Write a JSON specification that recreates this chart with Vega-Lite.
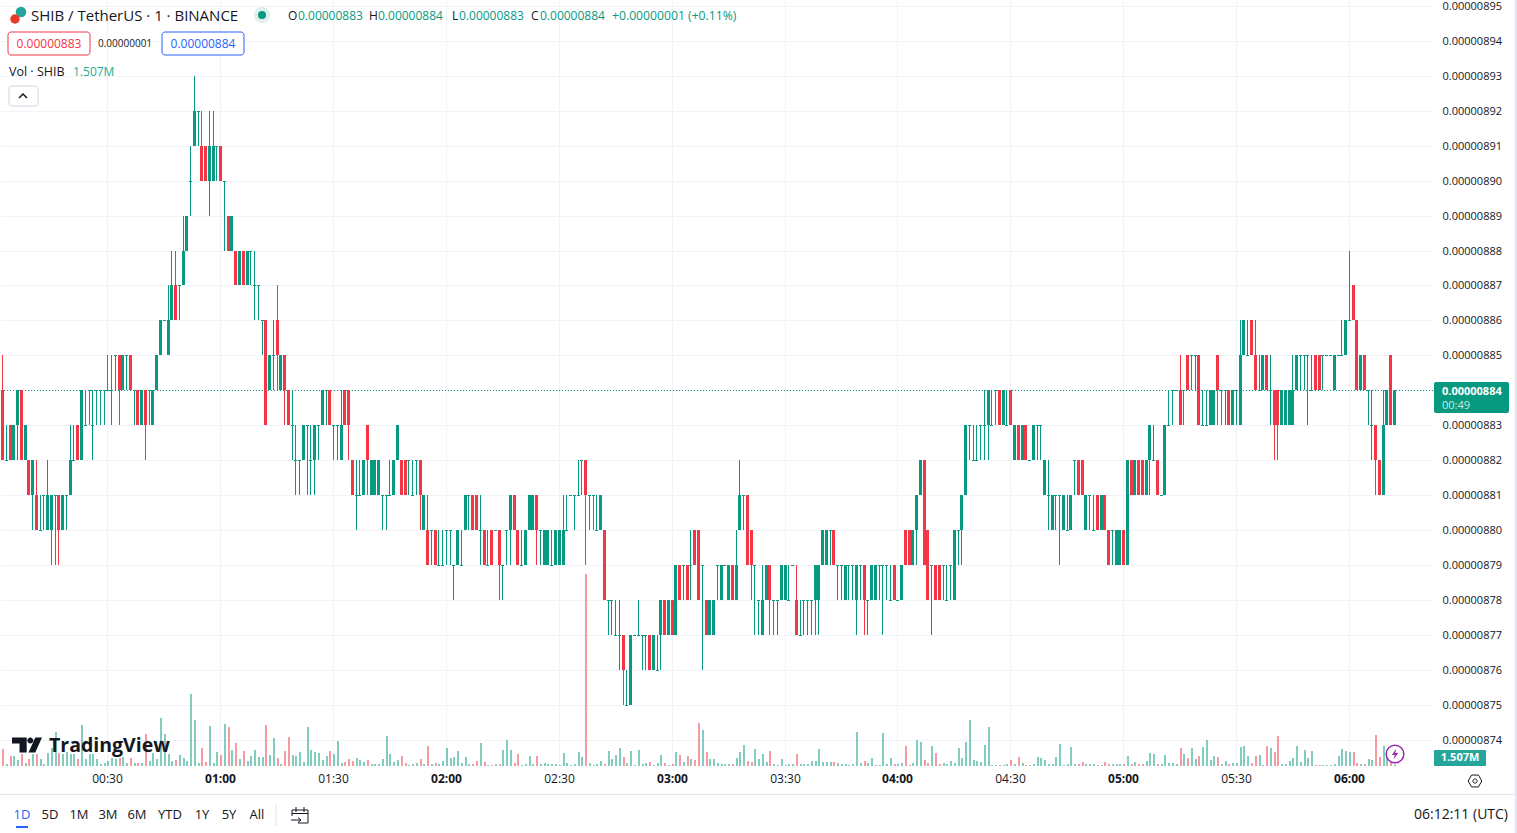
{"$schema":"https://vega.github.io/schema/vega-lite/v6.json","width":1433,"height":766,"autosize":"none","padding":{"left":0,"top":0,"right":84,"bottom":67},"background":"#ffffff",
"config":{"view":{"stroke":null},"axis":{"gridColor":"#f0f3fa","gridWidth":1,"domain":false,"ticks":false,"title":null,"labelColor":"#131722","labelFont":"Open Sans","labelOverlap":false,"labelSeparation":0},"text":{"font":"Open Sans","color":"#131722","align":"left","baseline":"middle","fontSize":14},"point":{"opacity":1}},
"data":{"values":[
{"t":2,"o":884,"h":885,"l":882,"c":882,"v":17},{"t":3,"o":882,"h":883,"l":882,"c":882,"v":2},{"t":4,"o":883,"h":883,"l":882,"c":882,"v":10},{"t":5,"o":882,"h":883,"l":882,"c":883,"v":10},{"t":6,"o":883,"h":884,"l":882,"c":884,"v":6},{"t":7,"o":884,"h":884,"l":882,"c":882,"v":12},{"t":8,"o":882,"h":883,"l":882,"c":883,"v":3},{"t":9,"o":882,"h":882,"l":881,"c":881,"v":7},{"t":10,"o":881,"h":882,"l":880,"c":882,"v":12},{"t":11,"o":881,"h":882,"l":880,"c":880,"v":12},
{"t":12,"o":880,"h":881,"l":880,"c":880,"v":7},{"t":13,"o":881,"h":881,"l":880,"c":881,"v":2},{"t":14,"o":880,"h":882,"l":880,"c":881,"v":13},{"t":15,"o":880,"h":881,"l":879,"c":881,"v":18},{"t":16,"o":881,"h":881,"l":879,"c":881,"v":34},{"t":17,"o":881,"h":881,"l":879,"c":880,"v":13},{"t":18,"o":880,"h":881,"l":880,"c":881,"v":12},{"t":19,"o":881,"h":881,"l":880,"c":881,"v":14},{"t":20,"o":881,"h":883,"l":881,"c":882,"v":12},{"t":21,"o":882,"h":883,"l":882,"c":882,"v":12},
{"t":22,"o":883,"h":883,"l":882,"c":882,"v":7},{"t":23,"o":882,"h":884,"l":882,"c":884,"v":41},{"t":24,"o":883,"h":884,"l":883,"c":883,"v":7},{"t":25,"o":884,"h":884,"l":883,"c":884,"v":12},{"t":26,"o":883,"h":884,"l":882,"c":883,"v":12},{"t":27,"o":884,"h":884,"l":883,"c":884,"v":7},{"t":28,"o":884,"h":884,"l":883,"c":884,"v":2},{"t":29,"o":884,"h":884,"l":883,"c":884,"v":3},{"t":30,"o":884,"h":885,"l":884,"c":884,"v":5},{"t":31,"o":884,"h":885,"l":883,"c":884,"v":8},
{"t":32,"o":885,"h":885,"l":884,"c":885,"v":7},{"t":33,"o":885,"h":885,"l":883,"c":884,"v":8},{"t":34,"o":884,"h":885,"l":884,"c":885,"v":9},{"t":35,"o":885,"h":885,"l":884,"c":885,"v":3},{"t":36,"o":885,"h":885,"l":884,"c":884,"v":8},{"t":37,"o":884,"h":884,"l":883,"c":884,"v":3},{"t":38,"o":884,"h":884,"l":883,"c":883,"v":3},{"t":39,"o":883,"h":884,"l":883,"c":884,"v":3},{"t":40,"o":884,"h":884,"l":882,"c":883,"v":32},{"t":41,"o":884,"h":884,"l":883,"c":884,"v":5},
{"t":42,"o":883,"h":884,"l":883,"c":884,"v":13},{"t":43,"o":884,"h":885,"l":884,"c":885,"v":7},{"t":44,"o":885,"h":886,"l":885,"c":886,"v":48},{"t":45,"o":886,"h":886,"l":886,"c":886,"v":32},{"t":46,"o":885,"h":887,"l":885,"c":886,"v":12},{"t":47,"o":886,"h":888,"l":886,"c":887,"v":5},{"t":48,"o":887,"h":888,"l":886,"c":886,"v":6},{"t":49,"o":887,"h":887,"l":886,"c":887,"v":11},{"t":50,"o":887,"h":889,"l":887,"c":888,"v":8},{"t":51,"o":888,"h":889,"l":888,"c":889,"v":5},
{"t":52,"o":890,"h":891,"l":889,"c":890,"v":72},{"t":53,"o":891,"h":893,"l":891,"c":892,"v":46},{"t":54,"o":892,"h":892,"l":891,"c":892,"v":3},{"t":55,"o":891,"h":892,"l":890,"c":890,"v":18},{"t":56,"o":891,"h":891,"l":890,"c":890,"v":4},{"t":57,"o":890,"h":892,"l":889,"c":891,"v":40},{"t":58,"o":890,"h":892,"l":890,"c":891,"v":3},{"t":59,"o":891,"h":891,"l":890,"c":891,"v":14},{"t":60,"o":891,"h":891,"l":890,"c":890,"v":11},{"t":61,"o":890,"h":890,"l":888,"c":890,"v":42},
{"t":62,"o":889,"h":889,"l":888,"c":888,"v":39},{"t":63,"o":888,"h":889,"l":888,"c":889,"v":16},{"t":64,"o":888,"h":888,"l":887,"c":887,"v":23},{"t":65,"o":887,"h":888,"l":887,"c":888,"v":7},{"t":66,"o":888,"h":888,"l":887,"c":887,"v":15},{"t":67,"o":887,"h":888,"l":887,"c":888,"v":5},{"t":68,"o":888,"h":888,"l":887,"c":888,"v":10},{"t":69,"o":887,"h":888,"l":886,"c":887,"v":16},{"t":70,"o":887,"h":887,"l":886,"c":887,"v":9},{"t":71,"o":886,"h":886,"l":885,"c":886,"v":9},
{"t":72,"o":886,"h":886,"l":883,"c":883,"v":41},{"t":73,"o":884,"h":885,"l":884,"c":885,"v":11},{"t":74,"o":885,"h":886,"l":884,"c":885,"v":28},{"t":75,"o":886,"h":887,"l":884,"c":885,"v":8},{"t":76,"o":884,"h":885,"l":884,"c":885,"v":2},{"t":77,"o":885,"h":885,"l":883,"c":884,"v":15},{"t":78,"o":884,"h":884,"l":883,"c":883,"v":29},{"t":79,"o":883,"h":884,"l":882,"c":883,"v":11},{"t":80,"o":882,"h":883,"l":881,"c":882,"v":10},{"t":81,"o":882,"h":882,"l":881,"c":882,"v":14},
{"t":82,"o":882,"h":883,"l":882,"c":883,"v":4},{"t":83,"o":883,"h":883,"l":881,"c":883,"v":39},{"t":84,"o":882,"h":883,"l":881,"c":882,"v":16},{"t":85,"o":882,"h":883,"l":881,"c":883,"v":14},{"t":86,"o":883,"h":883,"l":882,"c":883,"v":13},{"t":87,"o":883,"h":884,"l":883,"c":884,"v":6},{"t":88,"o":884,"h":884,"l":883,"c":884,"v":10},{"t":89,"o":884,"h":884,"l":883,"c":883,"v":15},{"t":90,"o":883,"h":883,"l":882,"c":883,"v":12},{"t":91,"o":883,"h":883,"l":882,"c":883,"v":25},
{"t":92,"o":882,"h":884,"l":882,"c":883,"v":3},{"t":93,"o":884,"h":884,"l":883,"c":883,"v":4},{"t":94,"o":884,"h":884,"l":882,"c":883,"v":7},{"t":95,"o":882,"h":882,"l":881,"c":881,"v":5},{"t":96,"o":881,"h":882,"l":880,"c":881,"v":8},{"t":97,"o":881,"h":882,"l":881,"c":881,"v":6},{"t":98,"o":881,"h":882,"l":881,"c":882,"v":4},{"t":99,"o":883,"h":883,"l":881,"c":882,"v":6},{"t":100,"o":881,"h":882,"l":881,"c":882,"v":2},{"t":101,"o":881,"h":882,"l":881,"c":882,"v":2},
{"t":102,"o":881,"h":882,"l":881,"c":882,"v":2},{"t":103,"o":881,"h":881,"l":880,"c":881,"v":7},{"t":104,"o":881,"h":881,"l":880,"c":881,"v":30},{"t":105,"o":881,"h":882,"l":881,"c":881,"v":12},{"t":106,"o":881,"h":882,"l":881,"c":882,"v":4},{"t":107,"o":882,"h":883,"l":882,"c":883,"v":6},{"t":108,"o":882,"h":882,"l":881,"c":881,"v":10},{"t":109,"o":882,"h":882,"l":881,"c":881,"v":3},{"t":110,"o":882,"h":882,"l":881,"c":882,"v":1},{"t":111,"o":881,"h":882,"l":881,"c":881,"v":2},
{"t":112,"o":882,"h":882,"l":881,"c":882,"v":3},{"t":113,"o":882,"h":882,"l":880,"c":881,"v":7},{"t":114,"o":880,"h":881,"l":880,"c":881,"v":2},{"t":115,"o":880,"h":881,"l":879,"c":879,"v":20},{"t":116,"o":880,"h":880,"l":879,"c":880,"v":2},{"t":117,"o":880,"h":880,"l":879,"c":879,"v":3},{"t":118,"o":879,"h":880,"l":879,"c":879,"v":2},{"t":119,"o":879,"h":880,"l":879,"c":879,"v":5},{"t":120,"o":880,"h":880,"l":879,"c":880,"v":18},{"t":121,"o":880,"h":880,"l":879,"c":880,"v":8},
{"t":122,"o":879,"h":879,"l":878,"c":879,"v":9},{"t":123,"o":879,"h":880,"l":879,"c":880,"v":15},{"t":124,"o":879,"h":880,"l":879,"c":879,"v":3},{"t":125,"o":880,"h":881,"l":880,"c":881,"v":9},{"t":126,"o":881,"h":881,"l":880,"c":881,"v":2},{"t":127,"o":881,"h":881,"l":880,"c":880,"v":2},{"t":128,"o":881,"h":881,"l":880,"c":880,"v":5},{"t":129,"o":880,"h":881,"l":879,"c":880,"v":23},{"t":130,"o":880,"h":880,"l":879,"c":879,"v":4},{"t":131,"o":879,"h":880,"l":879,"c":879,"v":1},
{"t":132,"o":880,"h":880,"l":879,"c":879,"v":1},{"t":133,"o":880,"h":880,"l":880,"c":880,"v":2},{"t":134,"o":880,"h":880,"l":878,"c":879,"v":2},{"t":135,"o":879,"h":879,"l":878,"c":879,"v":16},{"t":136,"o":880,"h":880,"l":879,"c":880,"v":26},{"t":137,"o":880,"h":881,"l":879,"c":881,"v":16},{"t":138,"o":881,"h":881,"l":880,"c":880,"v":3},{"t":139,"o":880,"h":880,"l":879,"c":879,"v":12},{"t":140,"o":879,"h":880,"l":879,"c":879,"v":1},{"t":141,"o":879,"h":880,"l":879,"c":880,"v":2},
{"t":142,"o":880,"h":881,"l":880,"c":881,"v":10},{"t":143,"o":880,"h":881,"l":880,"c":881,"v":2},{"t":144,"o":881,"h":881,"l":879,"c":880,"v":10},{"t":145,"o":880,"h":880,"l":879,"c":880,"v":2},{"t":146,"o":879,"h":880,"l":879,"c":880,"v":3},{"t":147,"o":879,"h":880,"l":879,"c":880,"v":2},{"t":148,"o":879,"h":880,"l":879,"c":879,"v":2},{"t":149,"o":879,"h":880,"l":879,"c":880,"v":2},{"t":150,"o":879,"h":880,"l":879,"c":880,"v":1},{"t":151,"o":879,"h":881,"l":879,"c":880,"v":13},
{"t":152,"o":880,"h":881,"l":880,"c":880,"v":3},{"t":153,"o":881,"h":881,"l":881,"c":881,"v":1},{"t":154,"o":881,"h":881,"l":880,"c":881,"v":2},{"t":155,"o":881,"h":882,"l":881,"c":881,"v":14},{"t":156,"o":882,"h":882,"l":881,"c":882,"v":9},{"t":157,"o":882,"h":882,"l":879,"c":881,"v":192},{"t":158,"o":881,"h":881,"l":880,"c":881,"v":3},{"t":159,"o":881,"h":881,"l":880,"c":881,"v":1},{"t":160,"o":880,"h":881,"l":880,"c":880,"v":2},{"t":161,"o":880,"h":881,"l":880,"c":881,"v":5},
{"t":162,"o":880,"h":880,"l":878,"c":878,"v":2},{"t":163,"o":878,"h":878,"l":877,"c":878,"v":15},{"t":164,"o":878,"h":878,"l":877,"c":878,"v":7},{"t":165,"o":877,"h":878,"l":877,"c":877,"v":11},{"t":166,"o":877,"h":878,"l":876,"c":877,"v":18},{"t":167,"o":877,"h":877,"l":875,"c":876,"v":9},{"t":168,"o":875,"h":876,"l":875,"c":875,"v":3},{"t":169,"o":875,"h":877,"l":875,"c":877,"v":15},{"t":170,"o":877,"h":877,"l":877,"c":877,"v":1},{"t":171,"o":877,"h":878,"l":877,"c":877,"v":16},
{"t":172,"o":877,"h":877,"l":876,"c":877,"v":2},{"t":173,"o":877,"h":877,"l":876,"c":877,"v":3},{"t":174,"o":877,"h":877,"l":876,"c":876,"v":4},{"t":175,"o":876,"h":877,"l":876,"c":877,"v":1},{"t":176,"o":876,"h":877,"l":876,"c":876,"v":3},{"t":177,"o":877,"h":878,"l":876,"c":878,"v":11},{"t":178,"o":878,"h":878,"l":877,"c":877,"v":3},{"t":179,"o":877,"h":878,"l":877,"c":878,"v":1},{"t":180,"o":878,"h":878,"l":877,"c":877,"v":2},{"t":181,"o":877,"h":879,"l":877,"c":879,"v":14},
{"t":182,"o":879,"h":879,"l":878,"c":878,"v":11},{"t":183,"o":879,"h":879,"l":878,"c":879,"v":4},{"t":184,"o":879,"h":879,"l":878,"c":878,"v":10},{"t":185,"o":879,"h":880,"l":878,"c":879,"v":7},{"t":186,"o":880,"h":880,"l":879,"c":879,"v":6},{"t":187,"o":880,"h":880,"l":878,"c":878,"v":43},{"t":188,"o":879,"h":879,"l":876,"c":879,"v":36},{"t":189,"o":878,"h":878,"l":877,"c":877,"v":14},{"t":190,"o":877,"h":878,"l":877,"c":878,"v":7},{"t":191,"o":877,"h":878,"l":877,"c":878,"v":7},
{"t":192,"o":879,"h":879,"l":878,"c":879,"v":3},{"t":193,"o":878,"h":879,"l":878,"c":879,"v":2},{"t":194,"o":879,"h":879,"l":879,"c":879,"v":2},{"t":195,"o":878,"h":879,"l":878,"c":879,"v":2},{"t":196,"o":879,"h":879,"l":878,"c":878,"v":2},{"t":197,"o":878,"h":880,"l":878,"c":879,"v":8},{"t":198,"o":880,"h":882,"l":880,"c":881,"v":14},{"t":199,"o":881,"h":881,"l":880,"c":881,"v":21},{"t":200,"o":881,"h":881,"l":879,"c":879,"v":5},{"t":201,"o":880,"h":880,"l":878,"c":879,"v":4},
{"t":202,"o":879,"h":879,"l":877,"c":879,"v":17},{"t":203,"o":878,"h":878,"l":877,"c":878,"v":7},{"t":204,"o":877,"h":879,"l":877,"c":878,"v":12},{"t":205,"o":878,"h":879,"l":878,"c":879,"v":4},{"t":206,"o":879,"h":879,"l":877,"c":878,"v":15},{"t":207,"o":878,"h":878,"l":877,"c":878,"v":2},{"t":208,"o":878,"h":878,"l":877,"c":878,"v":1},{"t":209,"o":878,"h":879,"l":878,"c":879,"v":7},{"t":210,"o":878,"h":879,"l":878,"c":879,"v":1},{"t":211,"o":878,"h":879,"l":878,"c":878,"v":2},
{"t":212,"o":879,"h":879,"l":879,"c":879,"v":2},{"t":213,"o":878,"h":879,"l":877,"c":877,"v":12},{"t":214,"o":877,"h":878,"l":877,"c":877,"v":2},{"t":215,"o":878,"h":878,"l":877,"c":878,"v":2},{"t":216,"o":878,"h":878,"l":877,"c":878,"v":2},{"t":217,"o":878,"h":878,"l":877,"c":878,"v":5},{"t":218,"o":878,"h":879,"l":877,"c":879,"v":5},{"t":219,"o":878,"h":879,"l":877,"c":879,"v":17},{"t":220,"o":879,"h":880,"l":879,"c":880,"v":4},{"t":221,"o":879,"h":880,"l":879,"c":880,"v":4},
{"t":222,"o":880,"h":880,"l":879,"c":880,"v":4},{"t":223,"o":880,"h":880,"l":879,"c":879,"v":4},{"t":224,"o":879,"h":879,"l":878,"c":879,"v":3},{"t":225,"o":879,"h":879,"l":878,"c":879,"v":2},{"t":226,"o":878,"h":879,"l":878,"c":879,"v":2},{"t":227,"o":879,"h":879,"l":878,"c":879,"v":1},{"t":228,"o":879,"h":879,"l":878,"c":879,"v":2},{"t":229,"o":878,"h":879,"l":877,"c":879,"v":34},{"t":230,"o":879,"h":879,"l":878,"c":879,"v":3},{"t":231,"o":879,"h":879,"l":877,"c":878,"v":5},
{"t":232,"o":878,"h":878,"l":877,"c":878,"v":3},{"t":233,"o":878,"h":879,"l":878,"c":879,"v":8},{"t":234,"o":878,"h":879,"l":878,"c":879,"v":1},{"t":235,"o":879,"h":879,"l":878,"c":879,"v":1},{"t":236,"o":879,"h":879,"l":877,"c":879,"v":33},{"t":237,"o":879,"h":879,"l":878,"c":879,"v":2},{"t":238,"o":878,"h":879,"l":878,"c":878,"v":8},{"t":239,"o":879,"h":879,"l":878,"c":878,"v":2},{"t":240,"o":878,"h":878,"l":878,"c":878,"v":2},{"t":241,"o":878,"h":879,"l":878,"c":879,"v":3},
{"t":242,"o":880,"h":880,"l":879,"c":879,"v":20},{"t":243,"o":880,"h":880,"l":879,"c":879,"v":1},{"t":244,"o":879,"h":880,"l":879,"c":880,"v":3},{"t":245,"o":880,"h":881,"l":879,"c":881,"v":26},{"t":246,"o":881,"h":882,"l":881,"c":882,"v":24},{"t":247,"o":882,"h":882,"l":879,"c":879,"v":6},{"t":248,"o":880,"h":880,"l":878,"c":878,"v":3},{"t":249,"o":879,"h":879,"l":877,"c":879,"v":20},{"t":250,"o":879,"h":879,"l":878,"c":878,"v":13},{"t":251,"o":879,"h":879,"l":878,"c":878,"v":2},
{"t":252,"o":879,"h":879,"l":878,"c":879,"v":3},{"t":253,"o":878,"h":879,"l":878,"c":878,"v":2},{"t":254,"o":879,"h":879,"l":878,"c":879,"v":5},{"t":255,"o":878,"h":880,"l":878,"c":880,"v":3},{"t":256,"o":880,"h":880,"l":879,"c":880,"v":18},{"t":257,"o":880,"h":881,"l":879,"c":881,"v":8},{"t":258,"o":881,"h":883,"l":881,"c":883,"v":24},{"t":259,"o":883,"h":883,"l":882,"c":883,"v":46},{"t":260,"o":882,"h":883,"l":882,"c":882,"v":6},{"t":261,"o":882,"h":883,"l":882,"c":882,"v":5},
{"t":262,"o":883,"h":883,"l":882,"c":883,"v":4},{"t":263,"o":883,"h":884,"l":882,"c":883,"v":21},{"t":264,"o":883,"h":884,"l":882,"c":884,"v":39},{"t":265,"o":883,"h":884,"l":883,"c":883,"v":1},{"t":266,"o":884,"h":884,"l":883,"c":884,"v":1},{"t":267,"o":884,"h":884,"l":883,"c":883,"v":1},{"t":268,"o":883,"h":884,"l":883,"c":884,"v":1},{"t":269,"o":883,"h":884,"l":883,"c":883,"v":2},{"t":270,"o":884,"h":884,"l":883,"c":883,"v":6},{"t":271,"o":882,"h":883,"l":882,"c":883,"v":2},
{"t":272,"o":883,"h":883,"l":882,"c":882,"v":9},{"t":273,"o":882,"h":883,"l":882,"c":883,"v":3},{"t":274,"o":883,"h":883,"l":882,"c":882,"v":1},{"t":275,"o":882,"h":882,"l":882,"c":882,"v":1},{"t":276,"o":882,"h":883,"l":882,"c":883,"v":2},{"t":277,"o":883,"h":883,"l":882,"c":883,"v":9},{"t":278,"o":883,"h":883,"l":882,"c":883,"v":8},{"t":279,"o":881,"h":882,"l":881,"c":882,"v":6},{"t":280,"o":881,"h":882,"l":880,"c":881,"v":2},{"t":281,"o":880,"h":881,"l":880,"c":881,"v":2},
{"t":282,"o":881,"h":881,"l":880,"c":881,"v":9},{"t":283,"o":881,"h":881,"l":879,"c":881,"v":22},{"t":284,"o":880,"h":881,"l":880,"c":881,"v":1},{"t":285,"o":880,"h":881,"l":880,"c":880,"v":2},{"t":286,"o":880,"h":881,"l":880,"c":881,"v":19},{"t":287,"o":882,"h":882,"l":881,"c":882,"v":2},{"t":288,"o":882,"h":882,"l":881,"c":881,"v":2},{"t":289,"o":882,"h":882,"l":881,"c":881,"v":4},{"t":290,"o":880,"h":881,"l":880,"c":881,"v":2},{"t":291,"o":881,"h":881,"l":880,"c":881,"v":2},
{"t":292,"o":880,"h":881,"l":880,"c":880,"v":2},{"t":293,"o":881,"h":881,"l":880,"c":880,"v":1},{"t":294,"o":880,"h":881,"l":880,"c":881,"v":1},{"t":295,"o":881,"h":881,"l":880,"c":880,"v":4},{"t":296,"o":880,"h":880,"l":879,"c":879,"v":2},{"t":297,"o":880,"h":880,"l":879,"c":880,"v":2},{"t":298,"o":879,"h":880,"l":879,"c":880,"v":2},{"t":299,"o":879,"h":880,"l":879,"c":880,"v":2},{"t":300,"o":880,"h":880,"l":879,"c":879,"v":2},{"t":301,"o":879,"h":882,"l":879,"c":882,"v":10},
{"t":302,"o":882,"h":882,"l":881,"c":881,"v":2},{"t":303,"o":881,"h":882,"l":881,"c":882,"v":4},{"t":304,"o":882,"h":882,"l":881,"c":881,"v":2},{"t":305,"o":882,"h":882,"l":881,"c":881,"v":2},{"t":306,"o":881,"h":882,"l":881,"c":882,"v":5},{"t":307,"o":882,"h":883,"l":881,"c":883,"v":13},{"t":308,"o":882,"h":883,"l":882,"c":882,"v":12},{"t":309,"o":882,"h":882,"l":881,"c":881,"v":2},{"t":310,"o":881,"h":881,"l":881,"c":881,"v":2},{"t":311,"o":881,"h":883,"l":881,"c":883,"v":11},
{"t":312,"o":883,"h":884,"l":883,"c":883,"v":3},{"t":313,"o":884,"h":884,"l":883,"c":884,"v":3},{"t":314,"o":884,"h":884,"l":884,"c":884,"v":2},{"t":315,"o":884,"h":885,"l":883,"c":883,"v":18},{"t":316,"o":884,"h":884,"l":883,"c":884,"v":12},{"t":317,"o":885,"h":885,"l":884,"c":884,"v":8},{"t":318,"o":885,"h":885,"l":884,"c":885,"v":18},{"t":319,"o":885,"h":885,"l":884,"c":885,"v":7},{"t":320,"o":885,"h":885,"l":883,"c":883,"v":10},{"t":321,"o":883,"h":884,"l":883,"c":883,"v":19},
{"t":322,"o":883,"h":884,"l":883,"c":883,"v":26},{"t":323,"o":883,"h":884,"l":883,"c":884,"v":6},{"t":324,"o":883,"h":884,"l":883,"c":884,"v":10},{"t":325,"o":885,"h":885,"l":883,"c":884,"v":9},{"t":326,"o":884,"h":884,"l":883,"c":884,"v":2},{"t":327,"o":884,"h":884,"l":883,"c":884,"v":5},{"t":328,"o":884,"h":884,"l":883,"c":883,"v":2},{"t":329,"o":883,"h":884,"l":883,"c":884,"v":3},{"t":330,"o":884,"h":884,"l":883,"c":884,"v":3},{"t":331,"o":883,"h":886,"l":883,"c":885,"v":19},
{"t":332,"o":885,"h":886,"l":885,"c":886,"v":20},{"t":333,"o":885,"h":886,"l":885,"c":885,"v":10},{"t":334,"o":886,"h":886,"l":885,"c":885,"v":3},{"t":335,"o":885,"h":886,"l":884,"c":884,"v":10},{"t":336,"o":884,"h":885,"l":884,"c":884,"v":11},{"t":337,"o":884,"h":885,"l":884,"c":885,"v":1},{"t":338,"o":885,"h":885,"l":884,"c":884,"v":20},{"t":339,"o":884,"h":885,"l":883,"c":884,"v":18},{"t":340,"o":884,"h":884,"l":882,"c":883,"v":14},{"t":341,"o":884,"h":884,"l":882,"c":883,"v":30},
{"t":342,"o":883,"h":884,"l":883,"c":884,"v":2},{"t":343,"o":883,"h":884,"l":883,"c":884,"v":2},{"t":344,"o":883,"h":884,"l":883,"c":884,"v":5},{"t":345,"o":883,"h":885,"l":883,"c":884,"v":8},{"t":346,"o":884,"h":885,"l":884,"c":885,"v":20},{"t":347,"o":885,"h":885,"l":884,"c":885,"v":4},{"t":348,"o":885,"h":885,"l":884,"c":885,"v":16},{"t":349,"o":885,"h":885,"l":883,"c":885,"v":8},{"t":350,"o":884,"h":885,"l":884,"c":884,"v":15},{"t":351,"o":885,"h":885,"l":884,"c":884,"v":1},
{"t":352,"o":885,"h":885,"l":884,"c":884,"v":1},{"t":353,"o":885,"h":885,"l":884,"c":885,"v":1},{"t":354,"o":885,"h":885,"l":885,"c":885,"v":1},{"t":355,"o":885,"h":885,"l":885,"c":885,"v":1},{"t":356,"o":884,"h":885,"l":884,"c":885,"v":2},{"t":357,"o":885,"h":885,"l":885,"c":885,"v":10},{"t":358,"o":885,"h":886,"l":885,"c":885,"v":17},{"t":359,"o":885,"h":886,"l":885,"c":886,"v":15},{"t":360,"o":886,"h":888,"l":886,"c":886,"v":14},{"t":361,"o":887,"h":887,"l":886,"c":886,"v":14},
{"t":362,"o":886,"h":886,"l":884,"c":884,"v":3},{"t":363,"o":884,"h":885,"l":884,"c":885,"v":2},{"t":364,"o":885,"h":885,"l":884,"c":884,"v":2},{"t":365,"o":884,"h":884,"l":883,"c":884,"v":7},{"t":366,"o":883,"h":884,"l":882,"c":883,"v":6},{"t":367,"o":883,"h":883,"l":881,"c":882,"v":31},{"t":368,"o":882,"h":882,"l":881,"c":881,"v":9},{"t":369,"o":881,"h":884,"l":881,"c":883,"v":20},{"t":370,"o":883,"h":884,"l":883,"c":884,"v":10},{"t":371,"o":885,"h":885,"l":883,"c":883,"v":5},{"t":372,"o":883,"h":884,"l":883,"c":884,"v":1.507}
]},
"layer":[
{"mark":{"type":"rule","strokeWidth":2,"opacity":0.5,"xOffset":1},"encoding":{
"x":{"field":"t","type":"quantitative","scale":{"domain":[1.467,382.38],"nice":false,"zero":false,"round":true},"axis":{"values":[30,60,90,120,150,180,210,240,270,300,330,360],"orient":"bottom","labelPadding":7,"labelFontSize":12,"labelAlign":"center","labelExpr":"format(floor(datum.value/60),'02d')+':'+format(datum.value%60,'02d')","labelFontWeight":{"condition":{"test":"datum.value%60==0","value":"bold"},"value":"normal"}}},
"y":{"field":"v","type":"quantitative","scale":{"domain":[0,766]},"axis":null},"y2":{"datum":0},
"color":{"condition":{"test":"datum.c<datum.o","value":"#f23645"},"value":"#089981"}}},
{"layer":[
{"mark":{"type":"rule","stroke":"#089981","strokeWidth":1,"strokeDash":[1,2],"yOffset":0.5},"encoding":{"y":{"datum":884,"scale":{"domain":[873.243,895.172],"nice":false,"zero":false,"round":true},"axis":{"orient":"right","grid":true,"tickCount":30,"labelOverlap":false,"values":[874,875,876,877,878,879,880,881,882,883,884,885,886,887,888,889,890,891,892,893,894,895],"labelPadding":9,"labelFontSize":11,"labelAlign":"left","labelExpr":"format(datum.value/1e8,'.8f')"}}},"data":{"values":[{}]}},
{"mark":{"type":"rule","strokeWidth":1,"xOffset":0.5},"encoding":{"x":{"field":"t","type":"quantitative"},"y":{"field":"l","type":"quantitative"},"y2":{"field":"h"},"color":{"condition":{"test":"datum.c<datum.o","value":"#f23645"},"value":"#089981"}}},
{"transform":[{"filter":"datum.o!=datum.c"}],"mark":{"type":"rule","strokeWidth":3,"xOffset":0.5},"encoding":{"x":{"field":"t","type":"quantitative"},"y":{"field":"o","type":"quantitative"},"y2":{"field":"c"},"color":{"condition":{"test":"datum.c<datum.o","value":"#f23645"},"value":"#089981"}}},
{"transform":[{"filter":"datum.o==datum.c"}],"mark":{"type":"tick","orient":"horizontal","size":3,"thickness":1,"opacity":1,"color":"#089981","xOffset":0.5,"yOffset":0.5},"encoding":{"x":{"field":"t","type":"quantitative"},"y":{"field":"o","type":"quantitative"}}},

{"data":{"values":[{}]},"mark":{"type":"point","filled":true,"size":113,"color":"#26a69a"},"encoding":{"x":{"datum":7.04},"y":{"datum":894.83}}},
{"data":{"values":[{}]},"mark":{"type":"point","filled":true,"size":90,"color":"#e8392b"},"encoding":{"x":{"datum":5.45},"y":{"datum":894.64}}},
{"data":{"values":[{}]},"mark":{"type":"text","text":"SHIB / TetherUS · 1 · BINANCE","fontSize":15},"encoding":{"x":{"datum":9.7},"y":{"datum":894.7}}},
{"data":{"values":[{}]},"mark":{"type":"point","filled":true,"size":254,"color":"#dff1ed"},"encoding":{"x":{"datum":71.05},"y":{"datum":894.73}}},
{"data":{"values":[{}]},"mark":{"type":"point","filled":true,"size":64,"color":"#089981"},"encoding":{"x":{"datum":71.05},"y":{"datum":894.73}}},
{"data":{"values":[{}]},"mark":{"type":"text","text":"O","fontSize":12},"encoding":{"x":{"datum":77.95},"y":{"datum":894.7}}},
{"data":{"values":[{}]},"mark":{"type":"text","text":"0.00000883","fontSize":12,"color":"#089981"},"encoding":{"x":{"datum":80.6},"y":{"datum":894.7}}},
{"data":{"values":[{}]},"mark":{"type":"text","text":"H","fontSize":12},"encoding":{"x":{"datum":99.47},"y":{"datum":894.7}}},
{"data":{"values":[{}]},"mark":{"type":"text","text":"0.00000884","fontSize":12,"color":"#089981"},"encoding":{"x":{"datum":101.86},"y":{"datum":894.7}}},
{"data":{"values":[{}]},"mark":{"type":"text","text":"L","fontSize":12},"encoding":{"x":{"datum":121.51},"y":{"datum":894.7}}},
{"data":{"values":[{}]},"mark":{"type":"text","text":"0.00000883","fontSize":12,"color":"#089981"},"encoding":{"x":{"datum":123.37},"y":{"datum":894.7}}},
{"data":{"values":[{}]},"mark":{"type":"text","text":"C","fontSize":12},"encoding":{"x":{"datum":142.62},"y":{"datum":894.7}}},
{"data":{"values":[{}]},"mark":{"type":"text","text":"0.00000884","fontSize":12,"color":"#089981"},"encoding":{"x":{"datum":144.89},"y":{"datum":894.7}}},
{"data":{"values":[{}]},"mark":{"type":"text","text":"+0.00000001 (+0.11%)","fontSize":12.2,"color":"#089981"},"encoding":{"x":{"datum":164.1},"y":{"datum":894.7}}},
{"data":{"values":[{}]},"mark":{"type":"rect","fill":"#ffffff","stroke":"#f23645","cornerRadius":3},"encoding":{"x":{"datum":3.59},"x2":{"datum":25.37},"y":{"datum":894.27},"y2":{"datum":893.61}}},
{"data":{"values":[{}]},"mark":{"type":"text","text":"0.00000883","fontSize":12,"color":"#f23645","align":"center"},"encoding":{"x":{"datum":14.48},"y":{"datum":893.9}}},
{"data":{"values":[{}]},"mark":{"type":"text","text":"0.00000001","fontSize":10},"encoding":{"x":{"datum":27.49},"y":{"datum":893.9}}},
{"data":{"values":[{}]},"mark":{"type":"rect","fill":"#ffffff","stroke":"#2962ff","cornerRadius":3},"encoding":{"x":{"datum":44.49},"x2":{"datum":66.27},"y":{"datum":894.27},"y2":{"datum":893.61}}},
{"data":{"values":[{}]},"mark":{"type":"text","text":"0.00000884","fontSize":12,"color":"#2962ff","align":"center"},"encoding":{"x":{"datum":55.38},"y":{"datum":893.9}}},
{"data":{"values":[{}]},"mark":{"type":"text","text":"Vol · SHIB","fontSize":12.5},"encoding":{"x":{"datum":3.85},"y":{"datum":893.1}}},
{"data":{"values":[{}]},"mark":{"type":"text","text":"1.507M","fontSize":12,"color":"#22ab94"},"encoding":{"x":{"datum":20.85},"y":{"datum":893.1}}},
{"data":{"values":[{}]},"mark":{"type":"rect","fill":"#ffffff","stroke":"#d1d4dc","cornerRadius":3},"encoding":{"x":{"datum":3.85},"x2":{"datum":11.55},"y":{"datum":892.724},"y2":{"datum":892.15}}},
{"data":{"values":[{}]},"mark":{"type":"point","shape":"M-0.8,0.4L0,-0.4L0.8,0.4","size":100,"stroke":"#131722","strokeWidth":1.5,"filled":false},"encoding":{"x":{"datum":7.7},"y":{"datum":892.42}}},
{"data":{"values":[{}]},"mark":{"type":"point","shape":"M-1,-0.5H-0.02V0.5H-0.5V-0.1H-1ZM0.42,-0.3A0.2,0.2 0 1 1 0.02,-0.3A0.2,0.2 0 1 1 0.42,-0.3ZM0.55,-0.5H1L0.55,0.5H0.1Z","size":900,"filled":true,"color":"#131722"},"encoding":{"x":{"datum":8.63},"y":{"datum":873.83}}},
{"data":{"values":[{}]},"mark":{"type":"text","text":"TradingView","fontSize":19.5,"fontWeight":"bold"},"encoding":{"x":{"datum":14.48},"y":{"datum":873.82}}},
{"data":{"values":[{}]},"mark":{"type":"point","shape":"circle","size":314,"fill":"#ffffff","stroke":"#9c27b0","strokeWidth":1.5,"filled":true},"encoding":{"x":{"datum":372.15},"y":{"datum":873.59}}},
{"data":{"values":[{}]},"mark":{"type":"point","shape":"M0.15,-0.6L-0.35,0.1H-0.02L-0.15,0.6L0.35,-0.1H0.02Z","size":324,"filled":true,"color":"#9c27b0"},"encoding":{"x":{"datum":372.15},"y":{"datum":873.59}}},
{"data":{"values":[{}]},"mark":{"type":"rect","fill":"#089981","cornerRadius":2},"encoding":{"x":{"datum":382.65},"x2":{"datum":402.58},"y":{"datum":884.236},"y2":{"datum":883.348}}},
{"data":{"values":[{}]},"mark":{"type":"text","text":"0.00000884","fontSize":11,"fontWeight":"bold","color":"#ffffff"},"encoding":{"x":{"datum":384.77},"y":{"datum":883.95}}},
{"data":{"values":[{}]},"mark":{"type":"text","text":"00:49","fontSize":11,"color":"#c8ebe4"},"encoding":{"x":{"datum":384.77},"y":{"datum":883.55}}},
{"data":{"values":[{}]},"mark":{"type":"rect","fill":"#26a69a","cornerRadius":1},"encoding":{"x":{"datum":382.65},"x2":{"datum":396.47},"y":{"datum":873.7},"y2":{"datum":873.243}}},
{"data":{"values":[{}]},"mark":{"type":"text","text":"1.507M","fontSize":11,"fontWeight":"bold","color":"#ffffff","align":"center"},"encoding":{"x":{"datum":389.56},"y":{"datum":873.46}}},
{"data":{"values":[{}]},"mark":{"type":"point","shape":"M-0.8,0L-0.4,-0.7H0.4L0.8,0L0.4,0.7H-0.4ZM0.25,0A0.25,0.25 0 1 1 -0.25,0A0.25,0.25 0 1 1 0.25,0","size":289,"stroke":"#131722","strokeWidth":1,"filled":false},"encoding":{"x":{"datum":393.55},"y":{"datum":872.81}}},
{"data":{"values":[{}]},"mark":{"type":"rule","stroke":"#e0e3eb","strokeWidth":1,"yOffset":0.5},"encoding":{"x":{"datum":1.467},"x2":{"datum":403.92},"y":{"datum":872.43}}},
{"data":{"values":[{}]},"mark":{"type":"rule","stroke":"#e6e7f0","strokeWidth":3},"encoding":{"x":{"datum":404.31},"y":{"datum":895.172},"y2":{"datum":871.3}}},
{"data":{"values":[{}]},"mark":{"type":"text","text":"1D","fontSize":13,"align":"center","color":"#2962ff"},"encoding":{"x":{"datum":7.3},"y":{"datum":871.83}}},
{"data":{"values":[{}]},"mark":{"type":"rule","stroke":"#2962ff","strokeWidth":2},"encoding":{"x":{"datum":5.71},"x2":{"datum":8.9},"y":{"datum":871.51}}},
{"data":{"values":[{}]},"mark":{"type":"text","text":"5D","fontSize":13,"align":"center"},"encoding":{"x":{"datum":14.74},"y":{"datum":871.83}}},
{"data":{"values":[{}]},"mark":{"type":"text","text":"1M","fontSize":13,"align":"center"},"encoding":{"x":{"datum":22.44},"y":{"datum":871.83}}},
{"data":{"values":[{}]},"mark":{"type":"text","text":"3M","fontSize":13,"align":"center"},"encoding":{"x":{"datum":30.15},"y":{"datum":871.83}}},
{"data":{"values":[{}]},"mark":{"type":"text","text":"6M","fontSize":13,"align":"center"},"encoding":{"x":{"datum":37.85},"y":{"datum":871.83}}},
{"data":{"values":[{}]},"mark":{"type":"text","text":"YTD","fontSize":13,"align":"center"},"encoding":{"x":{"datum":46.61},"y":{"datum":871.83}}},
{"data":{"values":[{}]},"mark":{"type":"text","text":"1Y","fontSize":13,"align":"center"},"encoding":{"x":{"datum":55.11},"y":{"datum":871.83}}},
{"data":{"values":[{}]},"mark":{"type":"text","text":"5Y","fontSize":13,"align":"center"},"encoding":{"x":{"datum":62.28},"y":{"datum":871.83}}},
{"data":{"values":[{}]},"mark":{"type":"text","text":"All","fontSize":13,"align":"center"},"encoding":{"x":{"datum":69.72},"y":{"datum":871.83}}},
{"data":{"values":[{}]},"mark":{"type":"rule","stroke":"#e0e3eb","strokeWidth":1},"encoding":{"x":{"datum":74.77},"y":{"datum":872.154},"y2":{"datum":871.524}}},
{"data":{"values":[{}]},"mark":{"type":"point","shape":"M-0.8,-0.5H0.8V0.8H-0.2M-0.8,-0.5V0.1M-0.8,-0.15H0.8M-0.4,-0.8V-0.3M0.4,-0.8V-0.3M-0.9,0.5H0.1M-0.2,0.25L0.1,0.5L-0.2,0.75","size":400,"stroke":"#131722","strokeWidth":1,"filled":false},"encoding":{"x":{"datum":81.14},"y":{"datum":871.854}}},
{"data":{"values":[{}]},"mark":{"type":"text","text":"06:12:11 (UTC)","fontSize":14,"align":"right"},"encoding":{"x":{"datum":402.32},"y":{"datum":871.83}}}
]}
],
"resolve":{"scale":{"y":"independent"}}}
